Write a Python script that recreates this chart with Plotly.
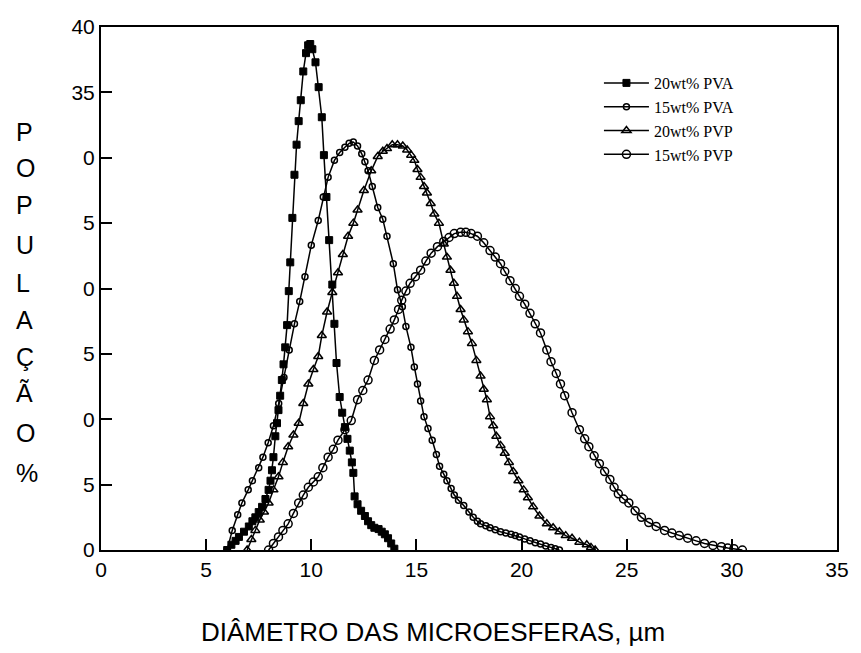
import plotly.graph_objects as go

# ---- data ----
pva20_x = [6.0, 6.2, 6.4, 6.56, 6.8, 7.03, 7.2, 7.34, 7.5, 7.66, 7.82, 7.97, 8.06, 8.13, 8.2, 8.29, 8.37, 8.44,
           8.52, 8.6, 8.68, 8.76, 8.85, 8.93, 9.0, 9.1, 9.2, 9.3, 9.4, 9.5, 9.62, 9.75, 9.85, 9.95, 10.05, 10.2,
           10.35, 10.5, 10.6, 10.72, 10.85, 11.0, 11.1, 11.2, 11.35, 11.47, 11.6, 11.72, 11.83, 11.93, 12.0,
           12.06, 12.2, 12.37, 12.55, 12.7, 12.85, 13.0, 13.2, 13.35, 13.5, 13.65, 13.8, 13.95]
pva20_y = [0.0, 0.4, 0.7, 1.0, 1.4, 1.8, 2.2, 2.5, 2.9, 3.3, 3.9, 4.6, 5.3, 6.1, 7.1, 8.7, 9.7, 10.7,
           11.8, 13.0, 14.2, 15.5, 17.2, 19.8, 22.0, 25.4, 28.7, 31.0, 32.8, 34.4, 36.6, 38.0, 38.6, 38.7, 38.3, 37.3,
           35.4, 33.1, 30.2, 27.0, 23.7, 20.3, 17.3, 14.3, 11.7, 10.5, 9.4, 8.5, 7.6, 6.7, 5.9,
           4.1, 3.5, 3.0, 2.6, 2.2, 1.9, 1.7, 1.6, 1.4, 1.2, 0.9, 0.5, 0.1]

pva15_x = [6.0, 6.24, 6.5, 6.7, 7.0, 7.2, 7.5, 7.7, 7.95, 8.2, 8.45, 8.7, 8.95, 9.2, 9.45, 9.7, 10.0, 10.33,
           10.57, 10.8, 11.1, 11.35, 11.6, 11.8, 12.0, 12.2, 12.4, 12.55, 12.7, 12.9, 13.16, 13.4, 13.6, 13.9,
           14.1, 14.33, 14.5, 14.74, 14.9, 15.05, 15.2, 15.36, 15.55, 15.75, 15.95, 16.1, 16.3, 16.45, 16.65,
           16.8, 17.0, 17.25, 17.5, 17.7, 17.9, 18.05, 18.3, 18.5, 18.75, 19.0, 19.25, 19.5, 19.7, 19.9, 20.15,
           20.4, 20.65, 20.9, 21.15, 21.4, 21.6, 21.8]
pva15_y = [0.0, 1.5, 2.7, 3.6, 4.6, 5.3, 6.3, 7.1, 8.2, 9.5, 11.2, 13.2, 15.3, 17.3, 19.0, 20.9, 23.3, 25.2,
           27.0, 28.5, 29.8, 30.4, 30.8, 31.1, 31.2, 30.9, 30.3, 29.7, 29.0, 27.8, 26.2, 25.3, 24.0, 21.9,
           19.9, 18.6, 17.1, 15.5, 14.0, 12.7, 11.4, 10.2, 9.3, 8.4, 7.3, 6.4, 5.8, 5.3, 4.7,
           4.2, 3.8, 3.4, 2.9, 2.5, 2.2, 2.0, 1.85, 1.7, 1.55, 1.4, 1.3, 1.2, 1.1, 1.0, 0.85,
           0.7, 0.55, 0.45, 0.3, 0.2, 0.1, 0.0]

pvp20_x = [6.95, 7.15, 7.34, 7.55, 7.75, 7.97, 8.2, 8.44, 8.65, 8.9, 9.15, 9.4, 9.62, 9.86, 10.1, 10.33, 10.5,
           10.75, 11.0, 11.27, 11.5, 11.75, 12.0, 12.2, 12.5, 12.85, 13.16, 13.4, 13.6, 13.85, 14.1, 14.35,
           14.56, 14.75, 14.9, 15.05, 15.2, 15.36, 15.5, 15.68, 15.85, 16.07, 16.3, 16.45, 16.62, 16.78, 16.93,
           17.1, 17.25, 17.45, 17.64, 17.85, 18.05, 18.2, 18.35, 18.5, 18.65, 18.8, 19.0, 19.2, 19.4, 19.6,
           19.85, 20.1, 20.3, 20.55, 20.85, 21.2, 21.5, 21.8, 22.1, 22.4, 22.75, 23.1, 23.3, 23.5]
pvp20_y = [0.0, 0.8, 1.5, 2.3, 2.9, 3.6, 4.6, 5.6, 6.7, 7.9, 8.8, 9.7, 11.2, 12.7, 13.8, 14.8, 16.4,
           18.2, 19.7, 21.2, 22.6, 24.0, 25.0, 26.0, 27.5, 29.0, 30.1, 30.5, 30.7, 31.0, 31.0, 30.9,
           30.6, 30.2, 29.8, 29.1, 28.5, 27.8, 27.3, 26.5, 25.7, 25.0, 23.4, 22.4, 21.4, 20.4, 19.4,
           18.4, 17.6, 16.7, 15.8, 14.5, 13.3, 12.3, 11.5, 10.2, 9.5, 8.7, 8.0, 7.4, 6.7, 6.0,
           5.3, 4.6, 4.0, 3.3, 2.6, 2.0, 1.7, 1.4, 1.1, 0.9, 0.6, 0.4, 0.2, 0.0]

pvp15_x = [7.97, 8.2, 8.44, 8.65, 8.9, 9.15, 9.4, 9.62, 9.86, 10.1, 10.33, 10.55, 10.8, 11.05, 11.27, 11.6,
           11.9, 12.2, 12.45, 12.7, 13.0, 13.25, 13.5, 13.75, 13.95, 14.15, 14.3, 14.5, 14.7, 14.95, 15.2,
           15.45, 15.7, 16.0, 16.3, 16.55, 16.8, 17.1, 17.35, 17.6, 17.9, 18.2, 18.5, 18.75, 19.0, 19.2,
           19.45, 19.7, 19.9, 20.15, 20.4, 20.65, 20.9, 21.2, 21.4, 21.65, 21.85, 22.05, 22.4, 22.75, 23.0,
           23.2, 23.45, 23.7, 23.95, 24.2, 24.4, 24.6, 24.85, 25.1, 25.4, 25.7, 26.05, 26.4, 26.8, 27.15,
           27.5, 27.9, 28.3, 28.7, 29.1, 29.5, 29.8, 30.1, 30.5]
pvp15_y = [0.0, 0.5, 1.0, 1.5, 2.0, 2.8, 3.6, 4.2, 4.8, 5.2, 5.6, 6.3, 7.1, 7.7, 8.4, 9.2,
           9.9, 11.5, 12.2, 13.0, 14.5, 15.3, 16.1, 16.9, 17.6, 18.4, 19.1, 19.8, 20.4, 20.9, 21.4,
           22.1, 22.7, 23.2, 23.6, 23.9, 24.2, 24.3, 24.3, 24.2, 24.0, 23.5, 22.9, 22.4, 21.9, 21.3,
           20.6, 20.0, 19.4, 18.8, 18.1, 17.3, 16.6, 15.3, 14.4, 13.5, 12.7, 11.8, 10.5, 9.2, 8.5,
           7.9, 7.2, 6.6, 6.0, 5.4, 4.8, 4.3, 3.9, 3.6, 3.0, 2.5, 2.1, 1.8, 1.5, 1.3,
           1.1, 0.9, 0.7, 0.5, 0.35, 0.25, 0.15, 0.1, 0.0]

series_names = ["20wt% PVA", "15wt% PVA", "20wt% PVP", "15wt% PVP"]
x_ticks = [0, 5, 10, 15, 20, 25, 30, 35]
y_tickvals = [0, 5, 10, 15, 20, 25, 30, 35, 40]
y_ticktext = ["0", "5", "0", "5", "0", "5", "0", "35", "40"]
y_title_letters = ["P", "O", "P", "U", "L", "A", "Ç", "Ã", "O", "%"]
x_title = "DIÂMETRO DAS MICROESFERAS, µm"

# ---- figure ----
L, R, T, B = 101, 18, 27, 103
W, H = 861, 653
plot_h = H - T - B
plot_w = W - L - R

fig = go.Figure()
styles = [
    dict(symbol="square", size=7, color="black", line=dict(color="black", width=1)),
    dict(symbol="circle-open", size=6, color="black", line=dict(color="black", width=1.5)),
    dict(symbol="triangle-up-open", size=8, color="black", line=dict(color="black", width=1.5)),
    dict(symbol="circle-open", size=8, color="black", line=dict(color="black", width=1.5)),
]
data = [(pva20_x, pva20_y), (pva15_x, pva15_y), (pvp20_x, pvp20_y), (pvp15_x, pvp15_y)]
for i, ((xs, ys), name, mk) in enumerate(zip(data, series_names, styles)):
    fig.add_trace(go.Scatter(
        x=xs, y=ys, mode="lines+markers", name=name,
        line=dict(color="black", width=1.5),
        marker=mk, legendgroup=f"g{i}",
    ))

axis_common = dict(
    showgrid=False, zeroline=False, showline=True, linecolor="black", linewidth=2,
    mirror=True, ticks="inside", ticklen=11, tickwidth=2, tickcolor="black",
    tickfont=dict(family="Liberation Sans, Arial", size=21, color="black"),
)
fig.update_xaxes(range=[0, 35], tickvals=x_ticks, ticktext=[str(v) for v in x_ticks], **axis_common)
fig.update_yaxes(range=[0, 40], tickvals=y_tickvals, ticktext=y_ticktext, **axis_common)

annotations = []
letter_px = [132, 168, 205, 245, 283, 320, 357, 393, 433, 473]
for ch, ypx in zip(y_title_letters, letter_px):
    annotations.append(dict(
        text=ch, xref="paper", yref="paper", x=(13 - L) / plot_w, y=(H - B - ypx) / plot_h,
        xanchor="left", yanchor="middle", showarrow=False,
        font=dict(family="Liberation Sans, Arial", size=25, color="black"),
    ))
annotations.append(dict(
    text=x_title, xref="paper", yref="paper", x=(436 - L) / plot_w, y=(H - B - 632) / plot_h,
    xanchor="center", yanchor="middle", showarrow=False,
    font=dict(family="Liberation Sans, Arial", size=26, color="black"),
))

fig.update_layout(
    width=W, height=H,
    margin=dict(l=L, r=R, t=T, b=B, pad=0),
    paper_bgcolor="white", plot_bgcolor="white",
    showlegend=True,
    legend=dict(
        x=(603 - L) / plot_w, y=(H - B - 66) / plot_h, xanchor="left", yanchor="top",
        bgcolor="rgba(0,0,0,0)", borderwidth=0, tracegroupgap=0, itemwidth=45,
        font=dict(family="Liberation Serif, Times New Roman", size=16, color="black"),
    ),
    annotations=annotations,
)

fig.write_html("out.html")
